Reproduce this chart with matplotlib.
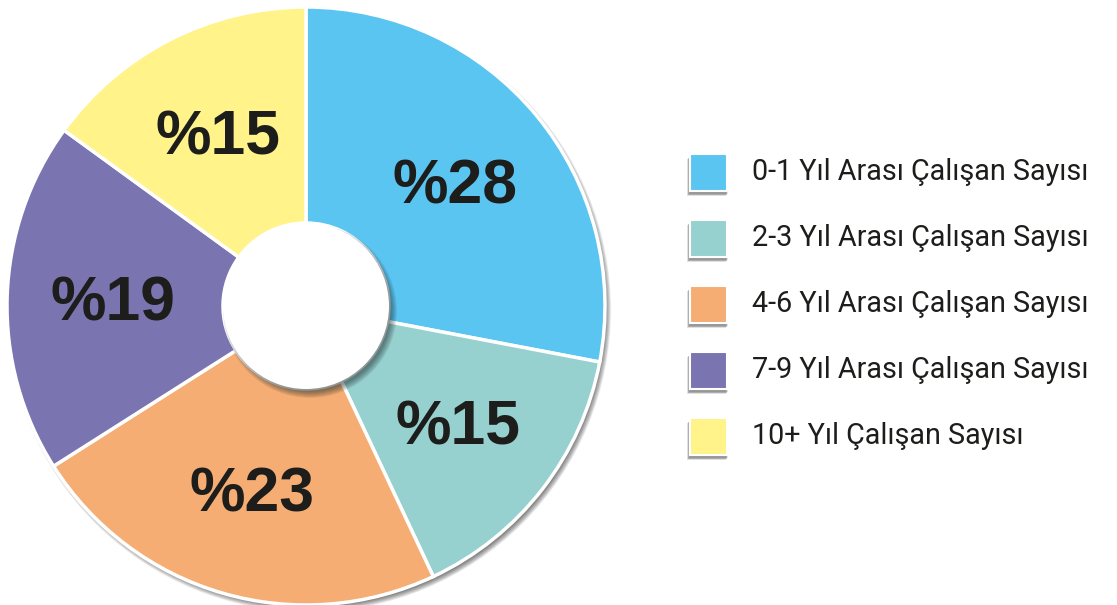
import matplotlib.pyplot as plt
import matplotlib.patches as mpatches
import numpy as np

# data
labels = ['0-1 Yıl Arası Çalışan Sayısı', '2-3 Yıl Arası Çalışan Sayısı',
          '4-6 Yıl Arası Çalışan Sayısı', '7-9 Yıl Arası Çalışan Sayısı',
          '10+ Yıl Çalışan Sayısı']
values = [28, 15, 23, 19, 15]
colors = ['#5BC5F2', '#96D0CF', '#F5AD73', '#7A75B0', '#FFF38A']

W, H = 1117, 605
fig = plt.figure(figsize=(W / 100, H / 100), dpi=100)
ax = fig.add_axes([0, 0, 1, 1])

cx, cy = 306, H - 306
R, r_in = 299, 83

# soft shadow under the pie
for k in range(8):
    ax.add_patch(mpatches.Circle((cx + 3, cy - 4), R + 3 - k * 0.8,
                                 color='black', alpha=0.08, lw=0, zorder=0))

wedges, _ = ax.pie(values, colors=colors, startangle=90, counterclock=False,
                   radius=R, center=(cx, cy),
                   wedgeprops=dict(width=R - r_in, edgecolor='white', linewidth=2.5))
for w in wedges:
    w.set_zorder(1)

# shadow of the raised centre disc
for k in range(8):
    ax.add_patch(mpatches.Circle((cx + 4, cy - 5), r_in + 4 - k * 0.9,
                                 color='#1d2a2a', alpha=0.08, lw=0, zorder=2))
ax.add_patch(mpatches.Circle((cx, cy), r_in, color='white', lw=0, zorder=3))

# percentage labels
start = 90
for v in values:
    mid = np.deg2rad(start - v * 3.6 / 2)
    start -= v * 3.6
    ax.text(cx + 0.645 * R * np.cos(mid), cy - 4 + 0.645 * R * np.sin(mid), f'%{v}',
            ha='center', va='center', fontsize=45, fontweight='bold',
            family='Liberation Sans', color='#1d1d1b', zorder=4)

# legend
lx, ly0, step, sq = 690, H - 172, 66, 37
for i, (lab, c) in enumerate(zip(labels, colors)):
    y = ly0 - i * step
    for k in range(4):
        ax.add_patch(mpatches.Rectangle((lx - 3 + k * 0.5, y - sq / 2 - 5 + k * 0.5), sq + 2, sq,
                                        color='black', alpha=0.12, lw=0, zorder=1))
    ax.add_patch(mpatches.Rectangle((lx, y - sq / 2), sq, sq, facecolor=c,
                                    edgecolor='white', lw=1.5, zorder=2))
    ax.text(752, y, lab, ha='left', va='center', fontsize=20.7,
            family='Roboto', color='#1d1d1b', zorder=4)

ax.set_xlim(0, W)
ax.set_ylim(0, H)
ax.set_aspect('equal')
ax.axis('off')

fig.savefig('out.png', dpi=100)
